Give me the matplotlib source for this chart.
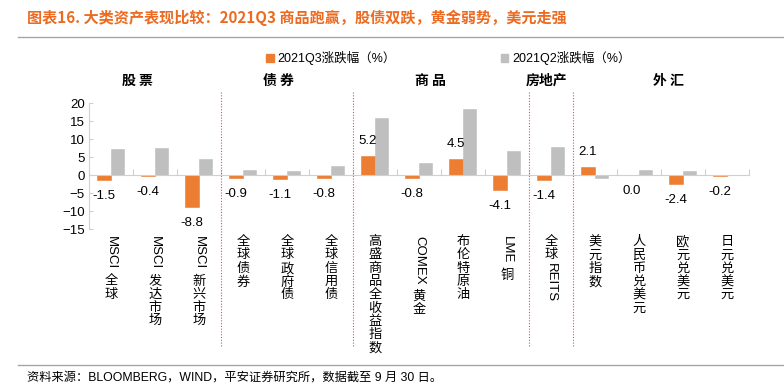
import matplotlib
matplotlib.use("Agg")
import matplotlib.pyplot as plt
import matplotlib.transforms as mtrans
from matplotlib.patches import Patch
import numpy as np

plt.rcParams['font.family'] = ['Liberation Sans', 'Noto Sans CJK SC', 'DejaVu Sans']

# data
cats = ["MSCI 全球", "MSCI 发达市场", "MSCI 新兴市场", "全球债券", "全球政府债", "全球信用债",
        "高盛商品全收益指数", "COMEX 黄金", "布伦特原油", "LME 铜", "全球REITS",
        "美元指数", "人民币兑美元", "欧元兑美元", "日元兑美元"]
q3 = [-1.5, -0.4, -8.8, -0.9, -1.1, -0.8, 5.2, -0.8, 4.5, -4.1, -1.4, 2.1, 0.0, -2.4, -0.2]
q2 = [7.1, 7.5, 4.4, 1.5, 1.1, 2.4, 15.9, 3.4, 18.2, 6.6, 7.9, -0.9, 1.4, 1.1, -0.1]
groups = ["股 票", "债 券", "商 品", "房地产", "外 汇"]
group_x = [0.61, 3.8, 7.27, 9.89, 12.66]
dividers = [2.5, 5.5, 9.5, 10.5]
yticks = [20, 15, 10, 5, 0, -5, -10, -15]

orange = "#ED7D31"
gray = "#BFBFBF"

W, H = 784, 385
fig = plt.figure(figsize=(W / 100, H / 100), dpi=100)
ax = fig.add_axes([89 / W, 1 - 229 / H, 660 / W, 126 / H])

x = np.arange(len(cats))
ax.bar(x - 0.16, q3, 0.3, color=orange, edgecolor=orange, linewidth=0.4)
ax.bar(x + 0.14, q2, 0.3, color=gray, edgecolor=gray, linewidth=0.4)

ax.set_xlim(-0.5, len(cats) - 0.5)
ax.set_ylim(-15, 20)
ax.set_yticks(yticks)
ax.set_xticks(np.arange(-0.5, len(cats), 1.0))
ax.set_xticklabels([])
for s in ["top", "right"]:
    ax.spines[s].set_visible(False)
ax.spines["left"].set_color("#D0D0D0")
ax.spines["bottom"].set_color("#D0D0D0")
ax.spines["bottom"].set_position(("data", 0))
ax.tick_params(axis="x", direction="in", length=4, color="#D0D0D0")
ax.tick_params(axis="y", direction="in", length=3, color="#D0D0D0", labelsize=9.5, pad=3)

# data labels
for xi, v in zip(x, q3):
    off = 15 if v > 0 else -16
    ax.annotate(f"{v:.1f}", xy=(xi - 0.16, v), xytext=(0, off), textcoords="offset pixels",
                ha="center", va="center", fontsize=9.5)

# divider lines
for d in dividers:
    ax.plot([d, d], [1.087, -0.937], transform=ax.get_xaxis_transform(), clip_on=False,
            color="#D9534F", lw=0.8, ls=(0, (1, 1.5)))

# group titles
bt = mtrans.blended_transform_factory(ax.transData, fig.transFigure)
for gx, g in zip(group_x, groups):
    ax.text(gx, 1 - 81 / H, g, transform=bt, ha="center", va="center",
            fontsize=10, fontweight="bold", family="Noto Sans CJK SC")

# vertical category labels (CJK upright, latin rotated)
renderer = fig.canvas.get_renderer()
for xi, lab in zip(x, cats):
    off = 7
    runs = []
    for ch in lab:
        if ch.isascii() and ch != " ":
            if runs and runs[-1][0] == "lat":
                runs[-1][1] += ch
            else:
                runs.append(["lat", ch])
        else:
            runs.append(["cjk" if ch != " " else "sp", ch])
    for kind, s in runs:
        if kind == "sp":
            off += 5
            continue
        rot = -90 if kind == "lat" else 0
        t = ax.annotate(s, xy=(xi, 0), xycoords=("data", "axes fraction"),
                        xytext=(0, -off), textcoords="offset pixels",
                        ha="center", va="top", rotation=rot, fontsize=9.5)
        if kind == "lat":
            off += t.get_window_extent(renderer).height + 1
        else:
            off += 13.3

# legend
handles = [Patch(color=orange, label="2021Q3涨跌幅（%）"), Patch(color=gray, label="2021Q2涨跌幅（%）")]
fig.legend(handles=handles, loc="center left", bbox_to_anchor=(266 / W, 1 - 58 / H), ncol=2,
           frameon=False, handlelength=0.6, handleheight=0.6, handletextpad=0.3,
           columnspacing=8.4, fontsize=9, borderpad=0, borderaxespad=0)

# title, rules, source
fig.text(27 / W, 1 - 18 / H, "图表16. 大类资产表现比较：2021Q3 商品跑赢，股债双跌，黄金弱势，美元走强",
         color="#EC6B21", fontsize=10.9, fontweight="bold", family="Noto Sans CJK SC", va="center")
fig.add_artist(plt.Line2D([18 / W, 1], [1 - 37 / H, 1 - 37 / H], color="#A6A6A6", lw=1))
fig.add_artist(plt.Line2D([18 / W, 1], [1 - 365 / H, 1 - 365 / H], color="#A6A6A6", lw=1))
fig.text(27 / W, 1 - 378 / H, "资料来源：BLOOMBERG，WIND，平安证券研究所，数据截至 9 月 30 日。",
         fontsize=8.8, va="center")

fig.savefig("out.png", dpi=100)
